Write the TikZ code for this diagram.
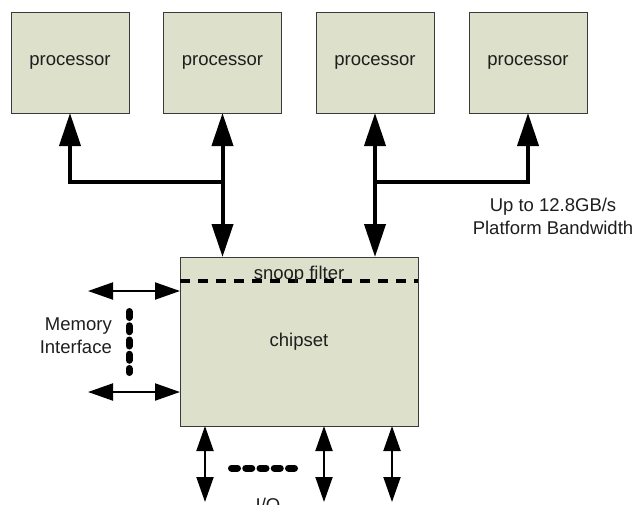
\documentclass[tikz,border=0pt]{standalone}
\usepackage{fontspec}
\setmainfont{Liberation Sans}
\usetikzlibrary{arrows.meta}
\definecolor{boxfill}{HTML}{DDE0CA}
\definecolor{boxline}{HTML}{3A3A3A}
\definecolor{txt}{HTML}{1E1E1E}
\tikzset{
  unitbox/.style={draw=boxline, line width=1pt, fill=boxfill, inner sep=0pt, outer sep=0pt,
    text=txt, font=\fontsize{18.5}{23}\selectfont},
  label text/.style={text=txt, inner sep=0pt, font=\fontsize{18.5}{23}\selectfont},
  bus/.style={line width=4pt, line join=miter},
  bigtip/.tip={Triangle[length=33pt,width=21pt]},
  smalltip/.tip={Triangle[length=25pt,width=17pt]},
  thinlink/.style={line width=2pt, {smalltip}-{smalltip}},
  dotline/.style={line width=7pt, line cap=round, dash pattern=on 6pt off 8.25pt},
  snoopline/.style={line width=3.5pt, dash pattern=on 10pt off 8pt}
}
\begin{document}
\begin{tikzpicture}[x=1pt,y=-1pt]
\useasboundingbox[fill=white] (0,0) rectangle (639,504);
% processors
\node[unitbox, minimum width=118pt, minimum height=101pt] (p1) at (70,62.5) {processor};
\node[unitbox, minimum width=118pt, minimum height=101pt] (p2) at (222.5,62.5) {processor};
\node[unitbox, minimum width=118pt, minimum height=101pt] (p3) at (375,62.5) {processor};
\node[unitbox, minimum width=118pt, minimum height=101pt] (p4) at (528,62.5) {processor};
% chipset
\node[unitbox, minimum width=238pt, minimum height=169pt] (chip) at (299,341.5) {chipset};
% snoop filter
\coordinate (sf) at (299,281);
\draw[snoopline] (chip.west |- sf) -- (chip.east |- sf);
\node[label text, anchor=base] (snoop) at (299,279) {snoop filter};
% buses
\coordinate (j1) at (222.5,182);
\coordinate (c1) at (70,182);
\coordinate (j2) at (375,182);
\coordinate (c2) at (528,182);
\draw[bus, -{bigtip}] (j1) -- (c1) -- (p1.south);
\draw[bus, {bigtip}-{bigtip}] (p2.south) -- (p2.south |- chip.north);
\draw[bus, -{bigtip}] (j2) -- (c2) -- (p4.south);
\draw[bus, {bigtip}-{bigtip}] (p3.south) -- (p3.south |- chip.north);
\node[label text, align=center] (bw) at (553,216.5) {Up to 12.8GB/s\\Platform Bandwidth};
% memory interface
\coordinate (m1) at (88,291);
\coordinate (m2) at (88,392);
\draw[thinlink] (m1) -- (m1 -| chip.west);
\draw[thinlink] (m2) -- (m2 -| chip.west);
\coordinate (md1) at (129,311.5);
\coordinate (md2) at (129,372.5);
\draw[dotline] (md1) -- (md2);
\node[label text, anchor=east, align=right] (mem) at (112,335.5) {Memory\\Interface};
% I/O
\coordinate (io1) at (205,502);
\coordinate (io2) at (324,502);
\coordinate (io3) at (392,502);
\draw[thinlink] (chip.south -| io1) -- (io1);
\draw[thinlink] (chip.south -| io2) -- (io2);
\draw[thinlink] (chip.south -| io3) -- (io3);
\coordinate (iod1) at (231.5,468);
\coordinate (iod2) at (294.5,468);
\draw[dotline] (iod1) -- (iod2);
\node[label text, anchor=base] (io) at (268,511.5) {I/O};
\end{tikzpicture}
\end{document}
